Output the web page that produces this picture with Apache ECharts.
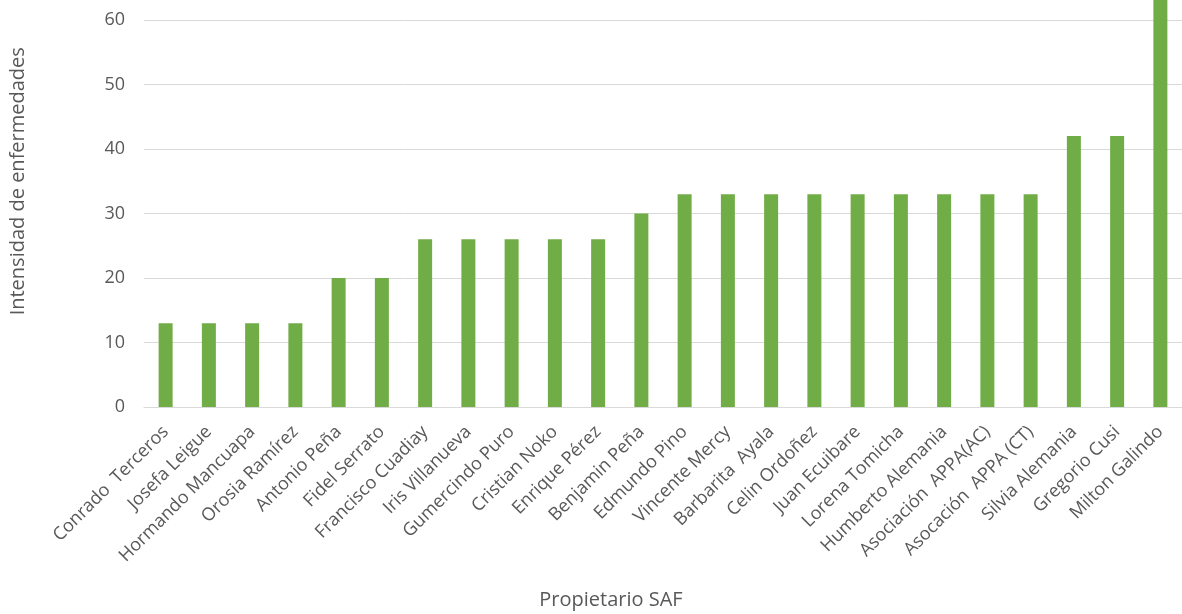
<!DOCTYPE html>
<html>
<head>
<meta charset="utf-8">
<script src="https://cdn.jsdelivr.net/npm/echarts@6/dist/echarts.min.js"></script>
<style>
  html, body { margin: 0; padding: 0; background: #fff; }
  #chart { width: 1182px; height: 614px; }
</style>
</head>
<body>
<div id="chart"></div>
<script>
// Owners of agroforestry systems (SAF) and their disease intensity
const owners = [
  'Conrado  Terceros', 'Josefa Leigue', 'Hormando Mancuapa', 'Orosia Ramírez',
  'Antonio Peña', 'Fidel Serrato', 'Francisco Cuadiay', 'Iris Villanueva',
  'Gumercindo Puro', 'Cristian Noko', 'Enrique Pérez', 'Benjamin Peña',
  'Edmundo Pino', 'Vincente Mercy', 'Barbarita  Ayala', 'Celin Ordoñez',
  'Juan Ecuibare', 'Lorena Tomicha', 'Humberto Alemania', 'Asociación  APPA(AC)',
  'Asocación  APPA (CT)', 'Silvia Alemania', 'Gregorio Cusi', 'Milton Galindo'
];
const intensity = [
  13, 13, 13, 13, 20, 20, 26, 26, 26, 26, 26, 30,
  33, 33, 33, 33, 33, 33, 33, 33, 33, 42, 42, 66
];
const yTicks = [0, 10, 20, 30, 40, 50, 60, 70];

const font = "'Open Sans', 'Noto Sans', sans-serif";
const textColor = '#595959';

const chart = echarts.init(document.getElementById('chart'), null, { renderer: 'canvas' });
chart.setOption({
  animation: false,
  // plot area runs past the top edge so the tallest bar is cut off there
  grid: { left: 144, right: 0, top: -44.5, bottom: 207, outerBoundsMode: 'none', containLabel: false },
  xAxis: {
    type: 'category',
    data: owners,
    axisLine: { show: true, lineStyle: { color: '#D9D9D9', width: 1 } },
    axisTick: { show: false },
    axisLabel: {
      rotate: 45,
      interval: 0,
      margin: 22,
      color: textColor,
      fontFamily: font,
      fontSize: 18
    }
  },
  yAxis: {
    type: 'value',
    min: yTicks[0],
    max: yTicks[yTicks.length - 1],
    interval: 10,
    name: 'Intensidad de enfermedades',
    nameLocation: 'middle',
    nameGap: 116,
    nameTextStyle: { color: textColor, fontFamily: font, fontSize: 20 },
    axisLine: { show: false },
    axisTick: { show: false },
    splitLine: { lineStyle: { color: '#D9D9D9', width: 1 } },
    axisLabel: {
      margin: 19,
      color: textColor,
      fontFamily: font,
      fontSize: 18
    }
  },
  graphic: [{
    type: 'text',
    x: 611,
    y: 600,
    style: {
      text: 'Propietario SAF',
      fill: textColor,
      font: "20px 'Open Sans', 'Noto Sans', sans-serif",
      textAlign: 'center',
      textVerticalAlign: 'middle'
    }
  }],
  series: [{
    type: 'bar',
    data: intensity,
    barWidth: 14,
    itemStyle: { color: '#70AD47' }
  }]
});
</script>
</body>
</html>
